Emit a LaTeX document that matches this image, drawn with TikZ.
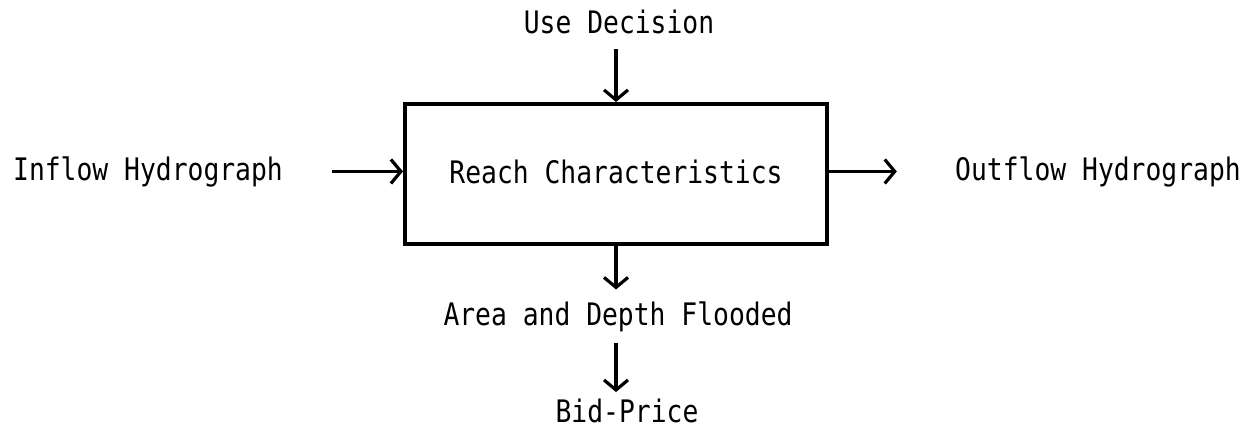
\documentclass[tikz,border=0pt]{standalone}
\usepackage{fontspec}
\newfontfamily\typewr{DejaVu Sans Mono}[FakeStretch=0.85]
\usetikzlibrary{arrows.meta}

\begin{document}
\begin{tikzpicture}[x=0.5pt, y=-0.5pt,
    label/.style={inner sep=0pt, anchor=base, font=\typewr\fontsize{15.5pt}{18pt}\selectfont},
    arr/.style={line width=1.6pt, -{Straight Barb[length=5pt, width=12pt, line width=1.6pt]}}]

    % Fix the size of the page to the reference
    \useasboundingbox (0,0) rectangle (1257,430);

    % The reach box
    \node[draw, line width=2pt, minimum width=211pt, minimum height=70pt,
          inner sep=0pt, font=\typewr\fontsize{15.5pt}{18pt}\selectfont,
          text depth=2pt] (reach) at (616,174) {Reach Characteristics};

    % Labels around the box
    \node[label] (usedec) at (619,33) {Use Decision};
    \node[label] (inflow) at (148,180) {Inflow Hydrograph};
    \node[label] (outflow) at (1098,180) {Outflow Hydrograph};
    \node[label] (area) at (618,325) {Area and Depth Flooded};
    \node[label] (bid) at (627,422) {Bid-Price};

    % Arrows into and out of the box
    \draw[arr, shorten <=7.5pt] (usedec.south -| reach.north) -- (reach.north);
    \draw[arr, shorten <=24.5pt] (inflow.east) -- (inflow.east -| reach.west);
    \draw[arr, shorten >=29pt] (reach.east |- outflow.west) -- (outflow.west);
    \draw[arr, shorten >=5.7pt] (reach.south) -- (reach.south |- area.north);

    % Arrow from the flooded area down to the price
    \draw[arr, shorten <=5.5pt, shorten >=3pt] (area.south -| reach.south) -- (bid.north -| reach.south);

\end{tikzpicture}
\end{document}
